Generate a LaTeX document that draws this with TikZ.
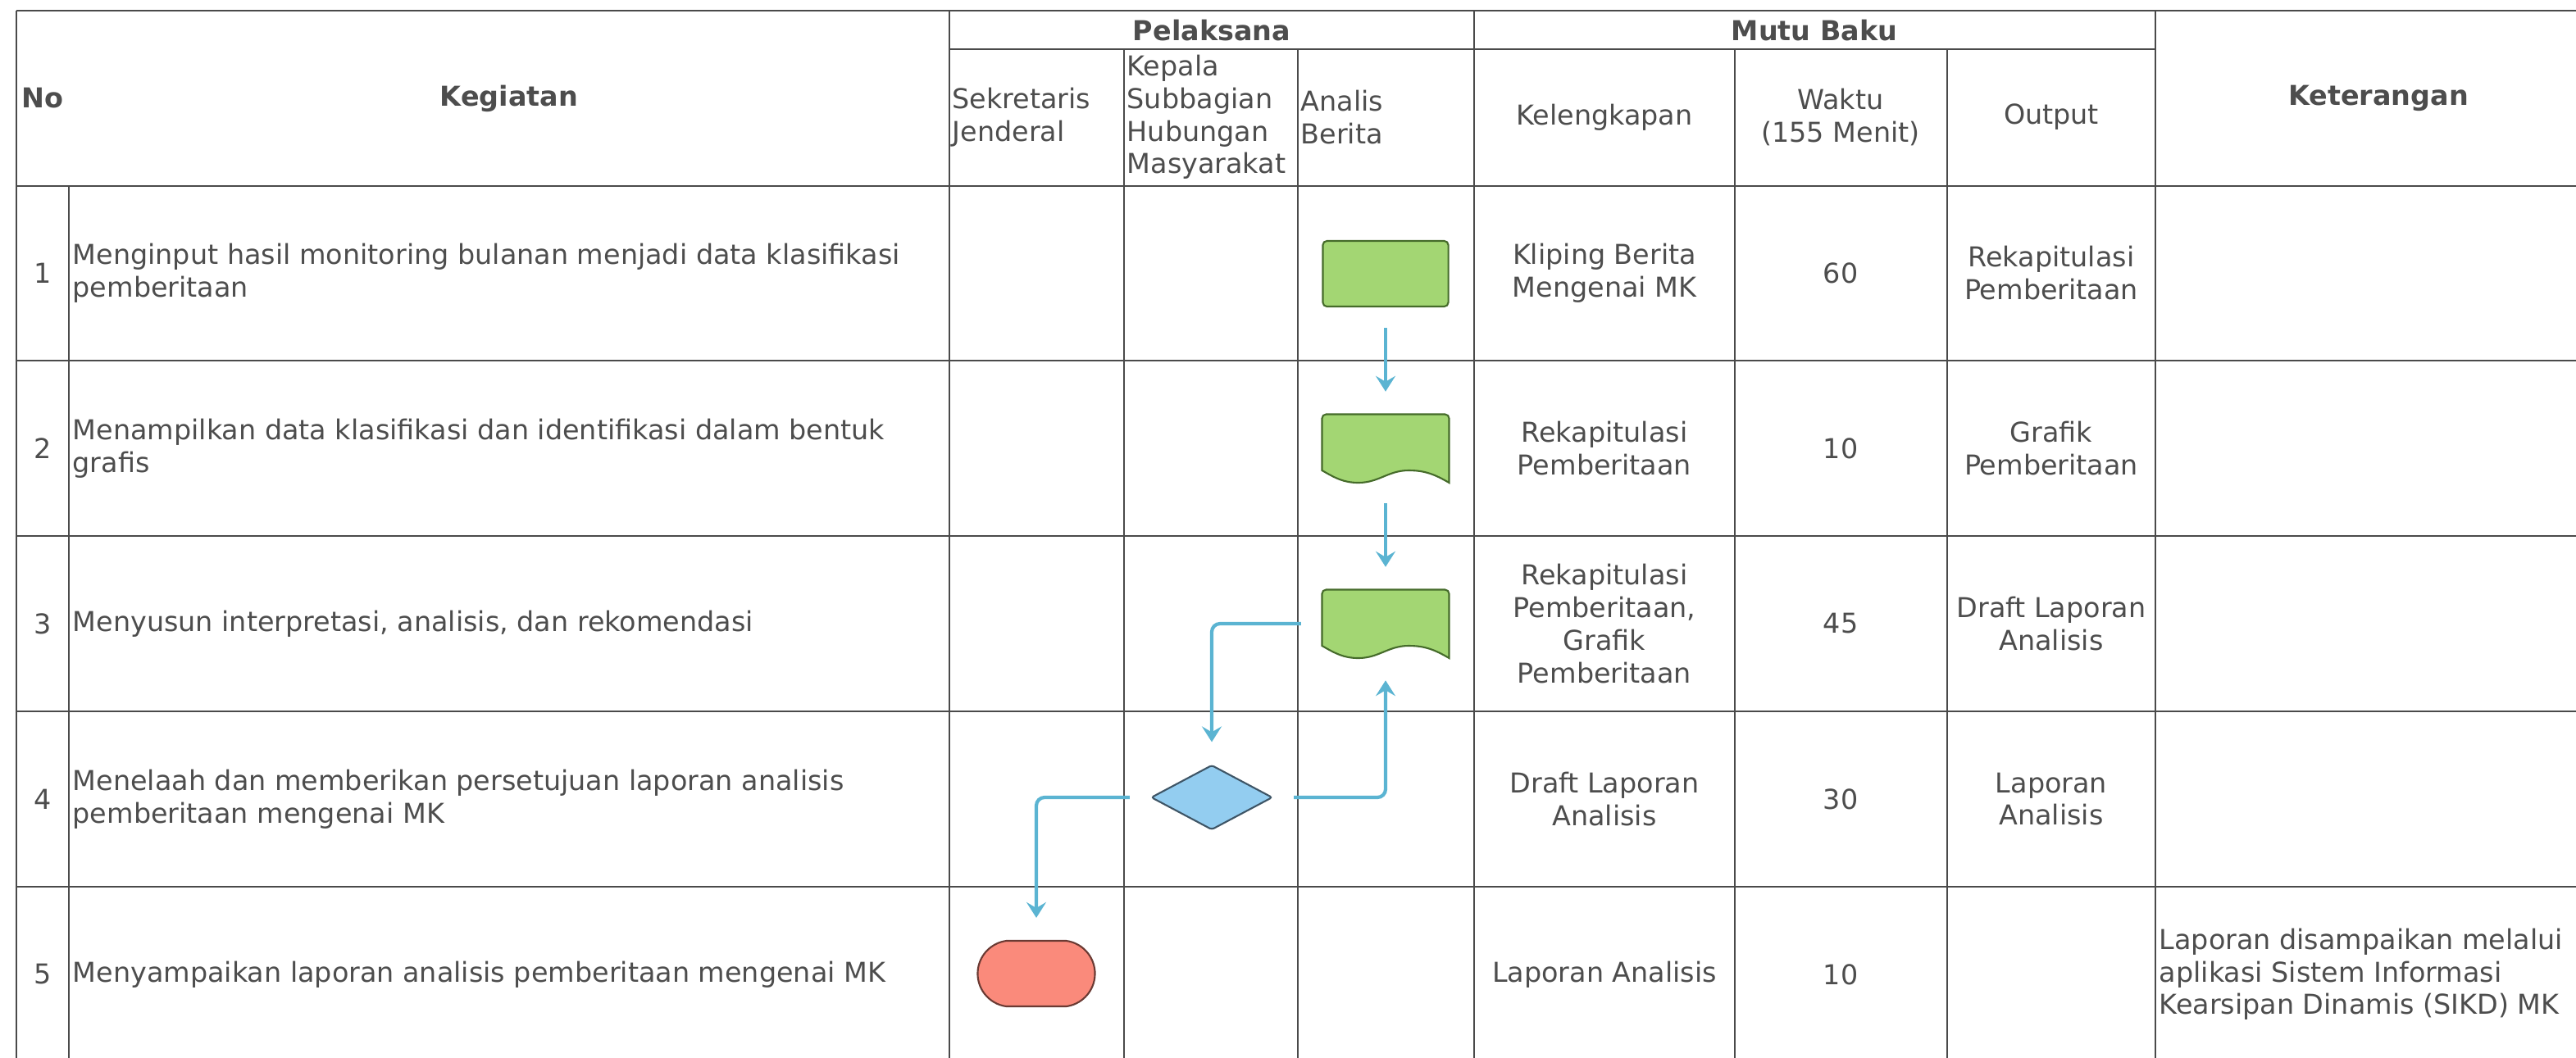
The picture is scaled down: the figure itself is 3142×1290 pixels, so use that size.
\documentclass[tikz,border=0pt]{standalone}
\usepackage{fontspec}
\setmainfont{DejaVu Sans}
\usetikzlibrary{shapes.geometric, shapes.misc, arrows.meta}

\definecolor{gridgray}{HTML}{4A4A4A}
\definecolor{textgray}{HTML}{4D4D4D}
\definecolor{flowblue}{HTML}{5BB4D2}
\definecolor{docgreen}{HTML}{A3D673}
\definecolor{docedge}{HTML}{456B2A}
\definecolor{decblue}{HTML}{93CDF0}
\definecolor{decedge}{HTML}{3E5566}
\definecolor{endred}{HTML}{FA8A7B}
\definecolor{endedge}{HTML}{6A3A33}

% wavy document outline round a named node
\newcommand{\docshape}[1]{%
  \begin{scope}[shift={(#1.center)}, x=0.01cm, y=0.01cm]
    \filldraw[fill=docgreen, draw=docedge, line width=0.6pt]
      (-77.5,-27) [rounded corners=0.05cm] -- (-77.5,41.5) -- (77.5,41.5)
      [sharp corners] -- (77.5,-42) to[out=150,in=0] (28,-27)
      to[out=180,in=0] (-33,-42) to[out=180,in=-30] (-77.5,-27) -- cycle;
  \end{scope}}

\begin{document}
\begin{tikzpicture}[
    x=0.01cm, y=-0.01cm,
    grid/.style={draw=gridgray, line width=0.6pt},
    txt/.style={text=textgray, inner sep=0pt, align=center, font=\fontsize{9.5}{11.3}\selectfont},
    ltxt/.style={txt, anchor=west, align=left},
    head/.style={txt, font=\fontsize{9.5}{11.3}\selectfont\bfseries},
    process/.style={rectangle, rounded corners=0.05cm, fill=docgreen, draw=docedge, line width=0.6pt,
        minimum width=1.53cm, minimum height=0.8cm, inner sep=0pt},
    docnode/.style={rectangle, minimum width=1.55cm, minimum height=0.83cm, inner sep=0pt},
    decision/.style={diamond, fill=decblue, draw=decedge, line width=0.6pt, rounded corners=0.03cm,
        minimum width=1.48cm, minimum height=0.79cm, inner sep=0pt},
    terminal/.style={rounded rectangle, rounded rectangle arc length=165, fill=endred, draw=endedge,
        line width=0.6pt, minimum width=1.43cm, minimum height=0.8cm, inner sep=0pt},
    flow/.style={draw=flowblue, line width=1.2pt, rounded corners=0.1cm,
        -{Stealth[length=0.19cm, width=0.24cm, inset=0.07cm]}, shorten <=0.25cm, shorten >=0.27cm}
]
    \useasboundingbox (0,0) rectangle (3142,1290);
    \clip (0,0) rectangle (3142,1290);

    % Table lines
    \draw[grid] (20,13) -- (3200,13);
    \draw[grid] (20,13) -- (20,1300);
    \draw[grid] (1158,60) -- (2629,60);
    \draw[grid] (20,227) -- (3200,227);
    \draw[grid] (20,440) -- (3200,440);
    \draw[grid] (20,654) -- (3200,654);
    \draw[grid] (20,868) -- (3200,868);
    \draw[grid] (20,1082) -- (3200,1082);
    \draw[grid] (84,227) -- (84,1300);
    \draw[grid] (1158,13) -- (1158,1300);
    \draw[grid] (1371,60) -- (1371,1300);
    \draw[grid] (1583,60) -- (1583,1300);
    \draw[grid] (1798,13) -- (1798,1300);
    \draw[grid] (2116,60) -- (2116,1300);
    \draw[grid] (2375,60) -- (2375,1300);
    \draw[grid] (2629,13) -- (2629,1300);

    % Header
    \node[head, anchor=west] (hno) at (26,120) {No};
    \node[head] (hkeg) at (621,120) {Kegiatan};
    \node[head] (hpel) at (1478,37) {Pelaksana};
    \node[head] (hmutu) at (2213,37) {Mutu Baku};
    \node[head] (hket) at (2901,120) {Keterangan};
    \node[ltxt] (hsek) at (1161,143) {Sekretaris\\Jenderal};
    \node[ltxt] (hkep) at (1374,143) {Kepala\\Subbagian\\Hubungan\\Masyarakat};
    \node[ltxt] (hana) at (1586,143) {Analis\\Berita};
    \node[txt] (hkel) at (1957,143) {Kelengkapan};
    \node[txt] (hwkt) at (2245,143) {Waktu\\(155 Menit)};
    \node[txt] (hout) at (2502,143) {Output};

    % Row 1
    \node[txt] (no1) at (52,333) {1};
    \node[ltxt] (keg1) at (88,333) {Menginput hasil monitoring bulanan menjadi data klasifikasi\\pemberitaan};
    \node[txt] (kel1) at (1957,333) {Kliping Berita\\Mengenai MK};
    \node[txt] (wkt1) at (2245,333) {60};
    \node[txt] (out1) at (2502,333) {Rekapitulasi\\Pemberitaan};

    % Row 2
    \node[txt] (no2) at (52,547) {2};
    \node[ltxt] (keg2) at (88,547) {Menampilkan data klasifikasi dan identifikasi dalam bentuk\\grafis};
    \node[txt] (kel2) at (1957,547) {Rekapitulasi\\Pemberitaan};
    \node[txt] (wkt2) at (2245,547) {10};
    \node[txt] (out2) at (2502,547) {Grafik\\Pemberitaan};

    % Row 3
    \node[txt] (no3) at (52,761) {3};
    \node[ltxt] (keg3) at (88,761) {Menyusun interpretasi, analisis, dan rekomendasi};
    \node[txt] (kel3) at (1957,761) {Rekapitulasi\\Pemberitaan,\\Grafik\\Pemberitaan};
    \node[txt] (wkt3) at (2245,761) {45};
    \node[txt] (out3) at (2502,761) {Draft Laporan\\Analisis};

    % Row 4
    \node[txt] (no4) at (52,975) {4};
    \node[ltxt] (keg4) at (88,975) {Menelaah dan memberikan persetujuan laporan analisis\\pemberitaan mengenai MK};
    \node[txt] (kel4) at (1957,975) {Draft Laporan\\Analisis};
    \node[txt] (wkt4) at (2245,975) {30};
    \node[txt] (out4) at (2502,975) {Laporan\\Analisis};

    % Row 5
    \node[txt] (no5) at (52,1189) {5};
    \node[ltxt] (keg5) at (88,1189) {Menyampaikan laporan analisis pemberitaan mengenai MK};
    \node[txt] (kel5) at (1957,1189) {Laporan Analisis};
    \node[txt] (wkt5) at (2245,1189) {10};
    \node[ltxt] (ket5) at (2633,1189) {Laporan disampaikan melalui\\aplikasi Sistem Informasi\\Kearsipan Dinamis (SIKD) MK};

    % Flow shapes
    \node[process] (act1) at (1690,334) {};
    \node[docnode] (act2) at (1690,547) {};
    \node[docnode] (act3) at (1690,761) {};
    \docshape{act2}
    \docshape{act3}
    \node[decision] (act4) at (1478,973) {};
    \node[terminal] (act5) at (1264,1188) {};

    % Connectors
    \draw[flow] (act1.south) -- (act2.north);
    \draw[flow] (act2.south) -- (act3.north);
    \draw[flow] (act3.west) -| (act4.north);
    \draw[flow] (act4.east) -| (act3.south);
    \draw[flow] (act4.west) -| (act5.north);

\end{tikzpicture}
\end{document}
